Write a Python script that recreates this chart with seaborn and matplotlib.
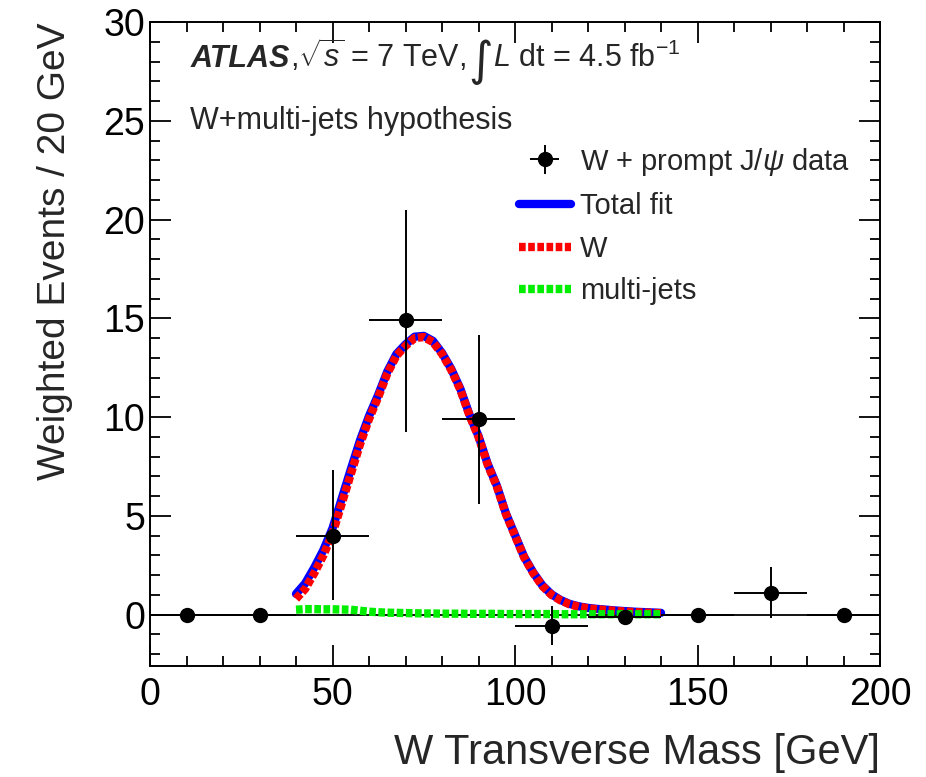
import numpy as np
import pandas as pd
import matplotlib
matplotlib.use("Agg")
import matplotlib.pyplot as plt
import seaborn as sns
from matplotlib.lines import Line2D
from matplotlib.ticker import MultipleLocator

# ---- data points (W + prompt J/psi data) ----
data_x = [10, 30, 50, 70, 90, 110, 130, 150, 170, 190]
data_y = [0.0, 0.0, 4.0, 14.9, 9.9, -0.56, -0.1, 0.0, 1.1, 0.0]
data_yerr_lo = [0.0, 0.0, 3.25, 5.65, 4.3, 0.96, 0.0, 0.0, 1.25, 0.0]
data_yerr_hi = [0.0, 0.0, 3.3, 5.6, 4.25, 0.98, 0.0, 0.0, 1.3, 0.0]
data_xerr = [10, 10, 10, 10, 10, 10, 10, 10, 10, 10]

# ---- fit components ----
fit_x = [40, 42.5, 45, 47.5, 50, 52.5, 55, 57.5, 60, 62.5, 65, 67.5, 70, 72.5,
         75, 77.5, 80, 82.5, 85, 87.5, 90, 92.5, 95, 97.5, 100, 102.5, 105,
         107.5, 110, 112.5, 115, 117.5, 120, 122.5, 125, 127.5, 130, 132.5,
         135, 137.5, 140]
w_vals = [0.8, 1.3, 2.1, 3.0, 4.1, 5.6, 7.1, 8.6, 9.9, 11.0, 12.2, 13.1, 13.6,
          14.0, 14.05, 13.8, 13.2, 12.4, 11.4, 10.1, 9.0, 7.6, 6.5, 5.1, 4.0,
          2.9, 2.1, 1.45, 1.0, 0.72, 0.52, 0.4, 0.32, 0.27, 0.23, 0.19, 0.16,
          0.13, 0.11, 0.09, 0.07]
mj_vals = [0.25, 0.28, 0.28, 0.27, 0.27, 0.26, 0.25, 0.2, 0.15, 0.12, 0.1,
           0.09, 0.08, 0.07, 0.06, 0.06, 0.05, 0.05, 0.05, 0.04, 0.04, 0.04,
           0.04, 0.03, 0.03, 0.03, 0.03, 0.03, 0.03, 0.02, 0.02, 0.02, 0.02,
           0.02, 0.02, 0.02, 0.02, 0.02, 0.02, 0.02, 0.02]

x_ticks = [0, 50, 100, 150, 200]
y_ticks = [0, 5, 10, 15, 20, 25, 30]

sns.set_theme(style="ticks")
plt.rcParams['font.family'] = ['Liberation Sans', 'DejaVu Sans']
plt.rcParams['mathtext.fontset'] = 'custom'
plt.rcParams['mathtext.rm'] = 'Liberation Sans'
plt.rcParams['mathtext.it'] = 'Liberation Sans:italic'
plt.rcParams['mathtext.bf'] = 'Liberation Sans:bold'

fig = plt.figure(figsize=(9.26, 7.77), dpi=100)
ax = fig.add_axes([150/926, 1-666/777, 730/926, 644/777])

df = pd.DataFrame({"x": fit_x, "W": w_vals, "MJ": mj_vals})
df["Total"] = df["W"] + df["MJ"]

ax.axhline(0, color="black", lw=1.3, zorder=1)

sns.lineplot(data=df, x="x", y="Total", ax=ax, color="#0000ff", linewidth=6,
             zorder=3, label="_nolegend_")
sns.lineplot(data=df, x="x", y="W", ax=ax, color="#ff0000", linewidth=6,
             linestyle=(0, (0.8, 0.3)), zorder=4, label="_nolegend_")
sns.lineplot(data=df, x="x", y="MJ", ax=ax, color="#00ee00", linewidth=6,
             linestyle=(0, (0.8, 0.3)), zorder=5, label="_nolegend_")

ax.errorbar(data_x, data_y, yerr=[data_yerr_lo, data_yerr_hi], xerr=data_xerr,
            fmt="o", color="black", ms=10, elinewidth=1.4, capsize=0, zorder=6)

ax.set_xlim(0, 200)
ax.set_ylim(-2.6, 30)
ax.set_xticks(x_ticks)
ax.set_yticks(y_ticks)
ax.xaxis.set_minor_locator(MultipleLocator(10))
ax.yaxis.set_minor_locator(MultipleLocator(1))
ax.tick_params(which="both", direction="in", top=True, right=True, width=1.3,
               labelsize=27, colors="black")
ax.tick_params(which="major", length=15)
ax.tick_params(which="minor", length=7.5)
ax.tick_params(axis="x", pad=8)
for s in ax.spines.values():
    s.set_linewidth(1.4)
    s.set_color("black")

ax.set_xlabel("W Transverse Mass [GeV]", fontsize=30, loc="right", labelpad=14)
ax.set_ylabel("Weighted Events / 20 GeV", fontsize=28, loc="top", labelpad=22)

# ATLAS label line
ybase = 0.930
t1 = ax.text(0.055, ybase, "ATLAS", transform=ax.transAxes, fontsize=22,
             fontweight="bold", fontstyle="italic", va="baseline")
t2 = ax.annotate(r",$\sqrt{s}$ = 7 TeV, ", xy=(1, ybase),
                 xycoords=(t1, "axes fraction"), va="baseline", fontsize=22)
t3 = ax.annotate("\u222b", xy=(1, ybase - 0.012),
                 xycoords=(t2, "axes fraction"), va="baseline", fontsize=34,
                 family="DejaVu Sans")
t4 = ax.annotate(r"$L$ dt = 4.5 fb$^{\mathrm{-1}}$", xy=(1, ybase),
                 xycoords=(t3, "axes fraction"), va="baseline", fontsize=22)

ax.text(0.055, 0.834, "W+multi-jets hypothesis", transform=ax.transAxes,
        fontsize=22, va="baseline")

handles = [
    ax.errorbar([], [], yerr=[], xerr=[], fmt="o", color="black", ms=10,
                elinewidth=1.4, capsize=0),
    Line2D([], [], color="#0000ff", lw=6),
    Line2D([], [], color="#ff0000", lw=6, linestyle=(0, (0.8, 0.3))),
    Line2D([], [], color="#00ee00", lw=6, linestyle=(0, (0.8, 0.3))),
]
labels = [r"W + prompt J/$\psi$ data", "Total fit", "W", "multi-jets"]
ax.legend(handles, labels, loc="upper left", bbox_to_anchor=(0.505, 0.808),
          frameon=False, fontsize=21, handlelength=1.8, labelspacing=0.5,
          handletextpad=0.3, borderpad=0, borderaxespad=0)

fig.savefig("out.png", dpi=100)
